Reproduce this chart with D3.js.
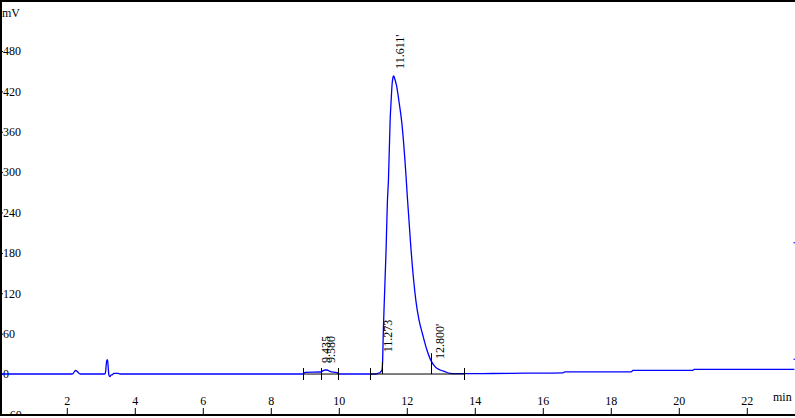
<!DOCTYPE html>
<html>
<head>
<meta charset="utf-8">
<script src="https://cdn.jsdelivr.net/npm/d3@7"></script>
<style>
  html, body { margin: 0; padding: 0; background: #fff; }
  svg { display: block; }
  text { font-family: "Liberation Serif", "Times New Roman", serif; font-size: 12px; fill: #000; }
</style>
</head>
<body>
<svg id="chart" width="795" height="418"></svg>
<script>
// ---- data ----
const times  = [0.0, 2.15, 2.19, 2.23, 2.26, 2.30, 2.34, 2.39, 3.12, 3.14, 3.16, 3.18, 3.20, 3.22, 3.24, 3.27, 3.30, 3.34, 3.38, 3.52, 3.56,
                8.95, 9.01, 9.48, 9.54, 9.60, 9.65, 9.74, 9.89, 9.95, 10.0,
                11.09, 11.15, 11.21, 11.26, 11.27, 11.29, 11.31, 11.34, 11.39, 11.43, 11.46, 11.51, 11.54, 11.57, 11.595, 11.61, 11.625,
                11.65, 11.70, 11.77, 11.85, 11.98, 12.02, 12.12, 12.20, 12.27, 12.36, 12.47, 12.59, 12.70, 12.83, 12.98, 13.12, 13.27, 13.42,
                14.5, 15.5, 16.6, 16.65, 18.6, 18.65, 20.4, 20.45, 23.4];
const signal = [0, 0, 1, 4, 5.5, 4, 2, 0, 0, 3, 14, 21, 21, 8, -2, -4, -1.5, -1, 1, 1, 0,
                0, 2.5, 3, 5, 6, 6, 4, 2.5, 2, 0,
                0, 1, 2, 5, 6, 21, 65, 110, 184, 257, 288, 377, 407, 432, 441, 443, 442,
                438, 428, 405, 375, 292, 260, 188, 140, 108, 80, 58, 36, 21, 11, 6, 3.5, 1, 0.5,
                0.8, 1.2, 1.8, 3.3, 3.3, 5.3, 5.3, 6.8, 6.8];

const peakTimes   = [9.435, 9.580, 11.273, 11.611, 12.800];
const peakLabels  = ["9.435", "9.580", "11.273", "11.611'", "12.800'"];
const peakHeights = [6, 6, 22, 443, 12];

const markerTimes = [8.96, 9.49, 9.99, 10.92, 13.69];
const tallMarkerTimes   = [11.28, 12.70];
const tallMarkerHeights = [18, 31];
const baseStart = [8.96, 10.92];
const baseEnd   = [9.99, 13.69];

const edgeTimes  = [23.4, 23.4];
const edgeValues = [195, 22];

const xTicks = [2, 4, 6, 8, 10, 12, 14, 16, 18, 20, 22];
const yTicks = [-60, 0, 60, 120, 180, 240, 300, 360, 420, 480];
const xUnit = "min";
const yUnit = "mV";

// ---- drawing ----
const W = 795, H = 418;
const svg = d3.select("#chart");
svg.append("rect").attr("width", W).attr("height", H).attr("fill", "#fff");

const x = d3.scaleLinear().domain([0, 23.4]).range([-1.2, 794.4]);
const y = d3.scaleLinear().domain([-60, 480]).range([414.4, 51]);

const defs = svg.append("defs");
defs.append("clipPath").attr("id", "plotclip")
  .append("rect").attr("x", 2).attr("y", 2).attr("width", W - 2).attr("height", 412);

const plot = svg.append("g").attr("clip-path", "url(#plotclip)");

// y axis (ticks pointing right, labels inside)
const yAxis = d3.axisRight(y).tickValues(yTicks).tickSize(2).tickPadding(0).tickFormat(d3.format("d"));
const yg = plot.append("g").attr("transform", "translate(1,0)").call(yAxis);
yg.select(".domain").remove();
yg.selectAll("line").attr("stroke", "#000");
yg.selectAll("text").attr("font-size", 12).attr("font-family", "Liberation Serif");

// x axis (ticks pointing up from the bottom line)
const xAxis = d3.axisTop(x).tickValues(xTicks).tickSize(7).tickPadding(3).tickFormat(d3.format("d"));
const xg = svg.append("g").attr("transform", "translate(0,415)").call(xAxis);
xg.select(".domain").remove();
xg.selectAll("line").attr("stroke", "#000").attr("stroke-width", 1);
xg.selectAll("text").attr("font-size", 12).attr("font-family", "Liberation Serif");

// signal trace
const pts = times.map((t, i) => [t, signal[i]]);
const line = d3.line().x(d => x(d[0])).y(d => y(d[1])).curve(d3.curveMonotoneX);
plot.append("path").datum(pts)
  .attr("fill", "none").attr("stroke", "#0000ff").attr("stroke-width", 1.3)
  .attr("d", line);

// integration baselines
plot.selectAll(".base").data(baseStart).enter().append("line")
  .attr("x1", d => x(d)).attr("x2", (d, i) => x(baseEnd[i]))
  .attr("y1", y(0)).attr("y2", y(0))
  .attr("stroke", "#000").attr("stroke-width", 1);

// integration markers
plot.selectAll(".mk").data(markerTimes).enter().append("line")
  .attr("x1", d => Math.round(x(d)) + 0.5).attr("x2", d => Math.round(x(d)) + 0.5)
  .attr("y1", y(0) - 6).attr("y2", y(0) + 6)
  .attr("stroke", "#000").attr("stroke-width", 1);
plot.selectAll(".tmk").data(tallMarkerTimes).enter().append("line")
  .attr("x1", d => Math.round(x(d)) + 0.5).attr("x2", d => Math.round(x(d)) + 0.5)
  .attr("y1", (d, i) => y(tallMarkerHeights[i])).attr("y2", y(0))
  .attr("stroke", "#000").attr("stroke-width", 1);

// edge marks
plot.selectAll(".edge").data(edgeTimes).enter().append("rect")
  .attr("x", d => x(d) - 1).attr("y", (d, i) => y(edgeValues[i]) - 0.5)
  .attr("width", 2).attr("height", 1).attr("fill", "#0000ff");

// peak labels
plot.selectAll(".plab").data(peakTimes).enter().append("text")
  .attr("transform", (d, i) => `translate(${x(d) + 10},${y(peakHeights[i]) - 7}) rotate(-90)`)
  .attr("text-anchor", "start")
  .text((d, i) => peakLabels[i]);

// frame lines
svg.append("line").attr("x1", 0).attr("x2", W).attr("y1", 1).attr("y2", 1).attr("stroke", "#000").attr("stroke-width", 2);
svg.append("line").attr("x1", 1).attr("x2", 1).attr("y1", 0).attr("y2", 416).attr("stroke", "#000").attr("stroke-width", 2);
svg.append("line").attr("x1", 0).attr("x2", W).attr("y1", 415).attr("y2", 415).attr("stroke", "#000").attr("stroke-width", 2);

// units
svg.append("text").attr("x", 2).attr("y", 17).text(yUnit);
svg.append("text").attr("x", 773).attr("y", 401).text(xUnit);
</script>
</body>
</html>
